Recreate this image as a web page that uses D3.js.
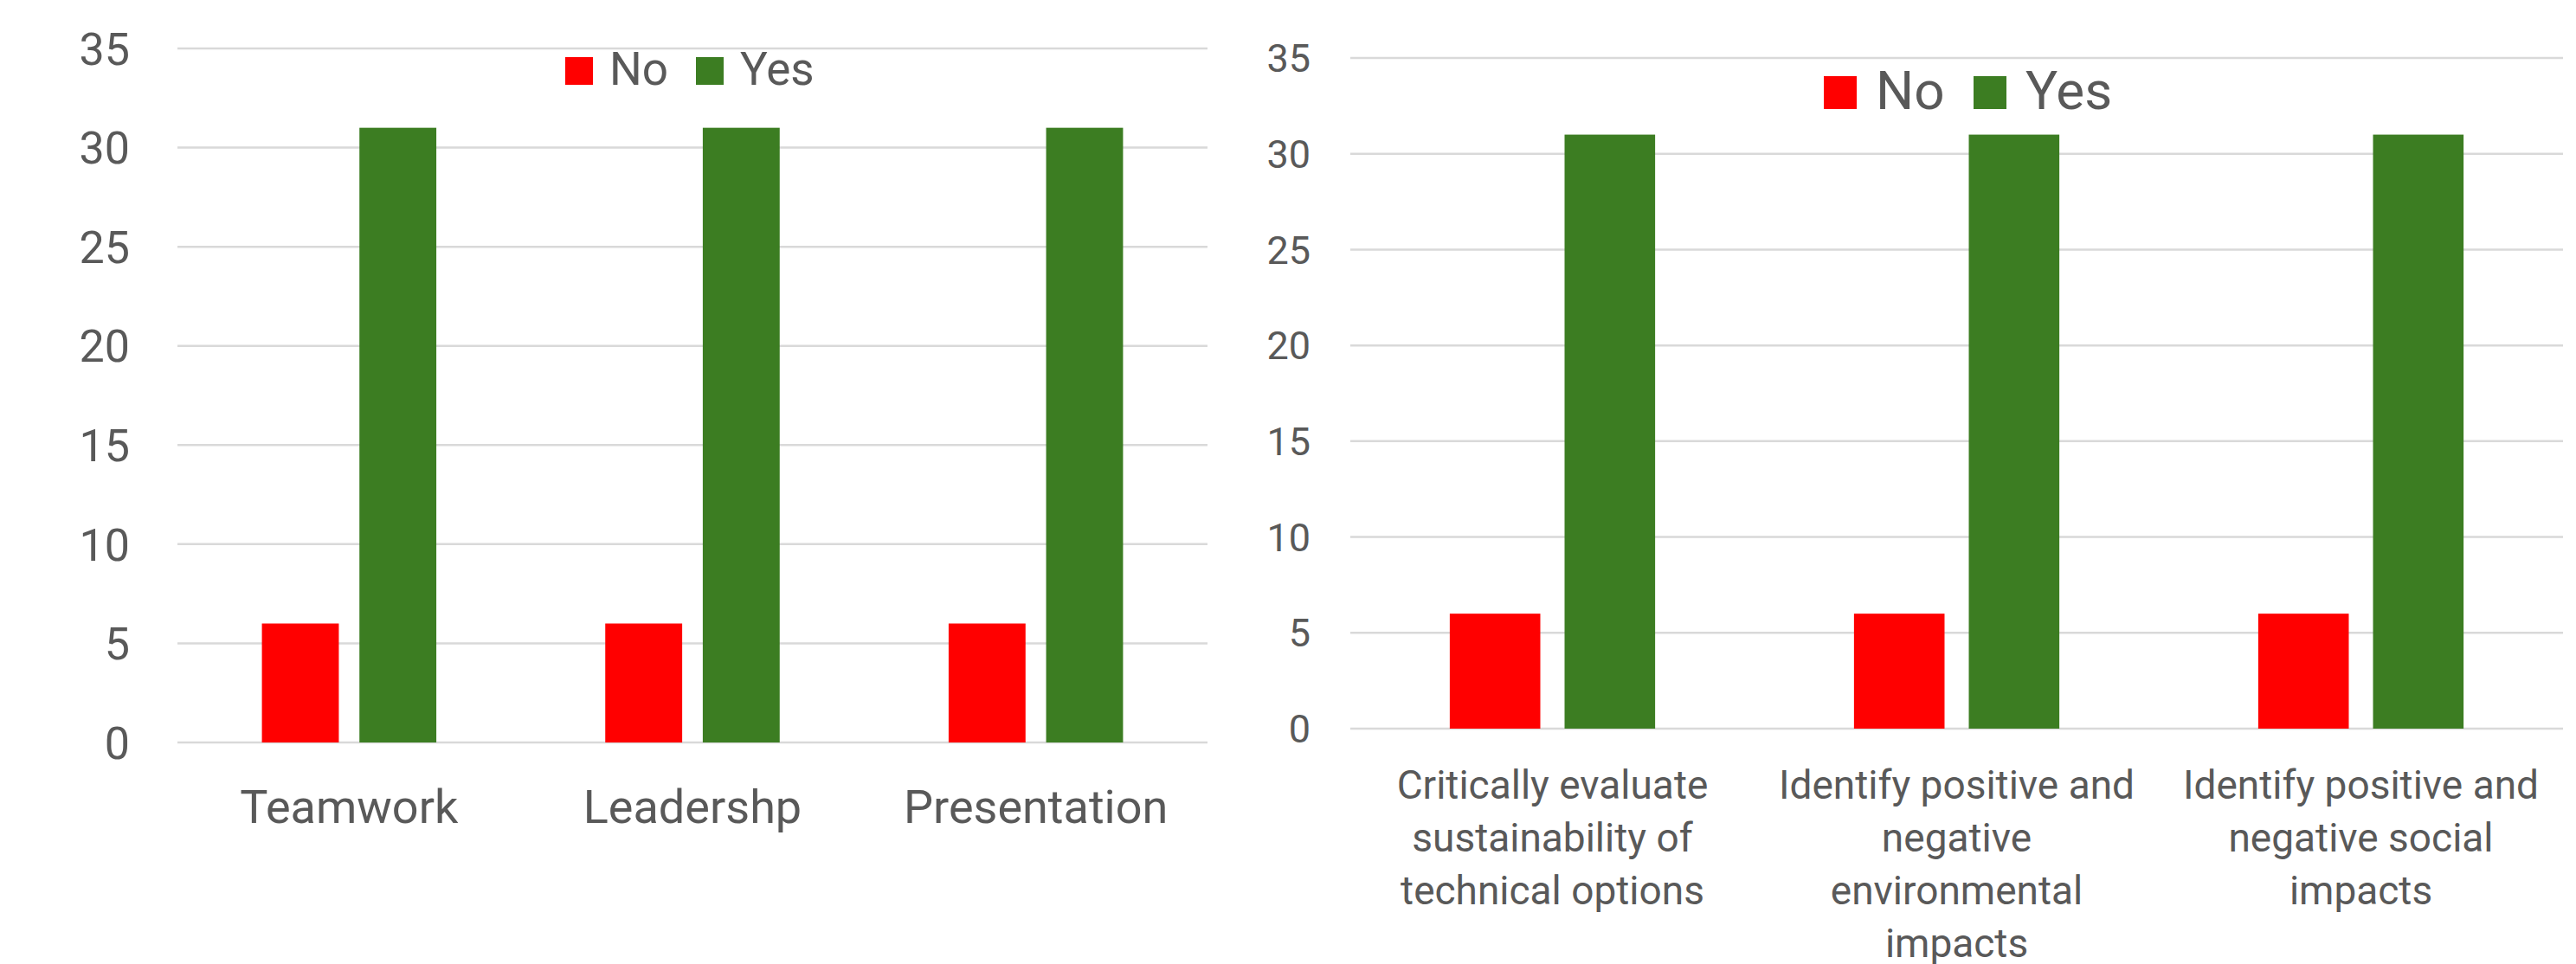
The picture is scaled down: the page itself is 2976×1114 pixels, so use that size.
<!DOCTYPE html>
<html>
<head>
<meta charset="utf-8">
<script src="https://cdn.jsdelivr.net/npm/d3@7"></script>
<style>
  html, body { margin: 0; padding: 0; background: #fff; }
  svg { display: block; }
  text { font-family: Roboto, "Liberation Sans", sans-serif; fill: #595959; }
</style>
</head>
<body>
<div id="chart"></div>
<script>
// data
var seriesNames = ["No", "Yes"];
var seriesColors = ["#ff0000", "#3c7d22"];
var yTicks = [0, 5, 10, 15, 20, 25, 30, 35];

var skillCategories = ["Teamwork", "Leadershp", "Presentation"];
var skillNo = [6, 6, 6];
var skillYes = [31, 31, 31];

var impactCategories = [
  "Critically evaluate|sustainability of|technical options",
  "Identify positive and|negative|environmental|impacts",
  "Identify positive and|negative social|impacts"
];
var impactNo = [6, 6, 6];
var impactYes = [31, 31, 31];

var svg = d3.select("#chart").append("svg")
  .attr("width", 2976)
  .attr("height", 1114);

function drawChart(cfg) {
  var g = svg.append("g");

  var x0 = d3.scaleBand()
    .domain(cfg.categories)
    .range([cfg.left, cfg.right])
    .paddingInner(0)
    .paddingOuter(0);

  var y = d3.scaleLinear()
    .domain([0, 35])
    .range([cfg.bottom, cfg.top]);

  // gridlines
  g.append("g")
    .selectAll("line")
    .data(yTicks)
    .enter().append("line")
    .attr("x1", cfg.left)
    .attr("x2", cfg.right)
    .attr("y1", function(d) { return y(d); })
    .attr("y2", function(d) { return y(d); })
    .attr("stroke", "#d9d9d9")
    .attr("stroke-width", 2.5);

  // y tick labels
  g.append("g")
    .selectAll("text")
    .data(yTicks)
    .enter().append("text")
    .attr("x", cfg.tickX)
    .attr("y", function(d) { return y(d); })
    .attr("dy", "0.36em")
    .attr("text-anchor", "end")
    .style("font-size", cfg.tickSize + "px")
    .text(function(d) { return d; });

  var bw = x0.bandwidth();
  var barW = bw * 0.224;
  var gap = bw * 0.06;

  var rows = cfg.categories.map(function(c, i) {
    return [
      { cat: c, k: 0, v: cfg.no[i] },
      { cat: c, k: 1, v: cfg.yes[i] }
    ];
  });

  g.append("g")
    .selectAll("g")
    .data(rows)
    .enter().append("g")
    .selectAll("rect")
    .data(function(d) { return d; })
    .enter().append("rect")
    .attr("x", function(d) {
      var c = x0(d.cat) + bw / 2;
      return d.k === 0 ? c - gap / 2 - barW : c + gap / 2;
    })
    .attr("y", function(d) { return y(d.v); })
    .attr("width", barW)
    .attr("height", function(d) { return y(0) - y(d.v); })
    .attr("fill", function(d) { return seriesColors[d.k]; });

  // category labels
  var labels = g.append("g")
    .selectAll("text")
    .data(cfg.categories)
    .enter().append("text")
    .attr("text-anchor", "middle")
    .attr("x", function(d) { return x0(d) + bw / 2; })
    .attr("y", cfg.labelY)
    .style("font-size", cfg.labelSize + "px");

  labels.selectAll("tspan")
    .data(function(d) { return d.split("|"); })
    .enter().append("tspan")
    .attr("x", function() { return d3.select(this.parentNode).attr("x"); })
    .attr("dy", function(d, i) { return i === 0 ? 0 : cfg.lineH; })
    .text(function(d) { return d; });

  // legend
  var leg = g.append("g");
  seriesNames.forEach(function(name, i) {
    leg.append("rect")
      .attr("x", cfg.legendX[i])
      .attr("y", cfg.legendY - cfg.legendSq)
      .attr("width", cfg.legendSq)
      .attr("height", cfg.legendSq)
      .attr("fill", seriesColors[i]);
    leg.append("text")
      .attr("x", cfg.legendX[i] + cfg.legendSq + cfg.legendGap)
      .attr("y", cfg.legendY)
      .style("font-size", cfg.legendSize + "px")
      .text(name);
  });
}

drawChart({
  categories: skillCategories,
  no: skillNo,
  yes: skillYes,
  left: 205, right: 1395, top: 56, bottom: 858,
  tickX: 150, tickSize: 52,
  labelY: 951, labelSize: 54, lineH: 60,
  legendX: [653, 804], legendY: 98, legendSq: 32, legendGap: 19, legendSize: 53
});

drawChart({
  categories: impactCategories,
  no: impactNo,
  yes: impactYes,
  left: 1560, right: 2961, top: 67, bottom: 842,
  tickX: 1514, tickSize: 45,
  labelY: 923, labelSize: 46, lineH: 61,
  legendX: [2107, 2280], legendY: 126, legendSq: 38, legendGap: 22, legendSize: 62
});
</script>
</body>
</html>
